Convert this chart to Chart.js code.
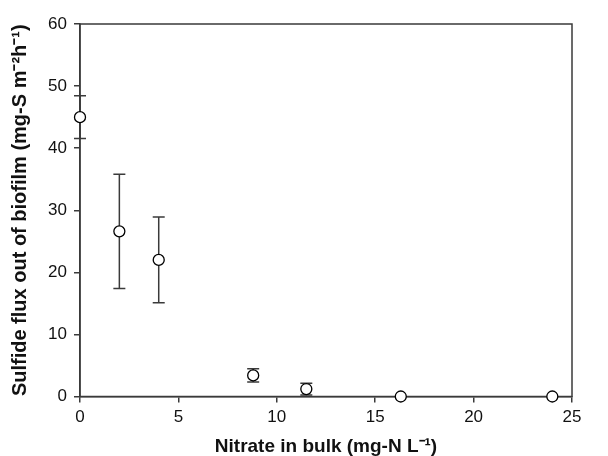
<!DOCTYPE html>
<html>
<head>
<meta charset="utf-8">
<script src="https://cdn.jsdelivr.net/npm/chart.js@4"></script>
<style>
body { margin: 0; background: #fff; }
#wrap { width: 608px; height: 456px; }
</style>
</head>
<body>
<div id="wrap"><canvas id="myChart"></canvas></div>
<script>
// values
var nitrate = [0, 2, 4, 8.8, 11.5, 16.3, 24]
var sulfideFlux = [45, 26.6, 22, 3.4, 1.2, 0, 0]
var fluxError = [3.45, 9.2, 6.9, 1.05, 0.95, 0, 0]
var xTicks = [0, 5, 10, 15, 20, 25]
var yTicks = [0, 10, 20, 30, 40, 50, 60]

var axisColor = '#3a3a3a'

var points = nitrate.map(function (x, i) {
    return { x: x, y: sulfideFlux[i] }
})

// error bars drawn through the chart scales
var errorBars = {
    id: 'errorBars',
    beforeDatasetsDraw: function (chart) {
        var ctx = chart.ctx
        var xs = chart.scales.x
        var ys = chart.scales.y
        ctx.save()
        ctx.strokeStyle = axisColor
        ctx.lineWidth = 1.5
        for (var i = 0; i < nitrate.length; i++) {
            if (!fluxError[i]) continue
            var px = xs.getPixelForValue(nitrate[i])
            var top = ys.getPixelForValue(sulfideFlux[i] + fluxError[i])
            var bot = ys.getPixelForValue(sulfideFlux[i] - fluxError[i])
            ctx.beginPath()
            ctx.moveTo(px, top); ctx.lineTo(px, bot)
            ctx.moveTo(px - 6, top); ctx.lineTo(px + 6, top)
            ctx.moveTo(px - 6, bot); ctx.lineTo(px + 6, bot)
            ctx.stroke()
        }
        ctx.restore()
    }
}

// box around the plot area
var frame = {
    id: 'frame',
    beforeDatasetsDraw: function (chart) {
        var a = chart.chartArea
        var ctx = chart.ctx
        ctx.save()
        ctx.strokeStyle = axisColor
        ctx.lineWidth = 1.5
        ctx.strokeRect(a.left, a.top, a.right - a.left, a.bottom - a.top)
        ctx.restore()
    }
}

var chartField = document.querySelector('#myChart').getContext('2d')

var myChart = new Chart(chartField, {
    type: 'scatter',
    data: {
        datasets: [{
            data: points,
            backgroundColor: '#fff',
            borderColor: '#000',
            borderWidth: 1.3,
            pointRadius: 5.5,
            pointHoverRadius: 5.5,
            clip: false
        }]
    },
    options: {
        responsive: true,
        maintainAspectRatio: false,
        animation: false,
        layout: { padding: { left: 0, right: 36, top: 24, bottom: 0 } },
        plugins: {
            legend: { display: false },
            tooltip: { enabled: false }
        },
        scales: {
            x: {
                min: 0,
                max: 25,
                afterBuildTicks: function (scale) {
                    scale.ticks = xTicks.map(function (v) { return { value: v } })
                },
                afterFit: function (scale) { scale.height = 59.5 },
                grid: { drawOnChartArea: false, tickLength: 6, color: axisColor, lineWidth: 1.5 },
                border: { color: axisColor, width: 1.5 },
                ticks: { color: '#111', font: { family: 'Liberation Sans', size: 17 }, padding: 5 },
                title: {
                    display: true,
                    text: 'Nitrate in bulk (mg-N L\u207B\u00B9)',
                    color: '#111',
                    font: { family: 'Liberation Sans', size: 19, weight: 'bold', lineHeight: 1 },
                    padding: { top: 6, bottom: 0 }
                }
            },
            y: {
                min: 0,
                max: 60,
                afterBuildTicks: function (scale) {
                    scale.ticks = yTicks.map(function (v) { return { value: v } })
                },
                afterFit: function (scale) { scale.width = 80 },
                grid: { drawOnChartArea: false, tickLength: 6, color: axisColor, lineWidth: 1.5 },
                border: { color: axisColor, width: 1.5 },
                ticks: { color: '#111', font: { family: 'Liberation Sans', size: 17 }, padding: 7 },
                title: {
                    display: true,
                    text: 'Sulfide flux out of biofilm (mg-S m\u207B\u00B2h\u207B\u00B9)',
                    color: '#111',
                    font: { family: 'Liberation Sans', size: 20, weight: 'bold', lineHeight: 1 },
                    padding: { top: 10, bottom: 0 }
                }
            }
        }
    },
    plugins: [errorBars, frame]
})
</script>
</body>
</html>
